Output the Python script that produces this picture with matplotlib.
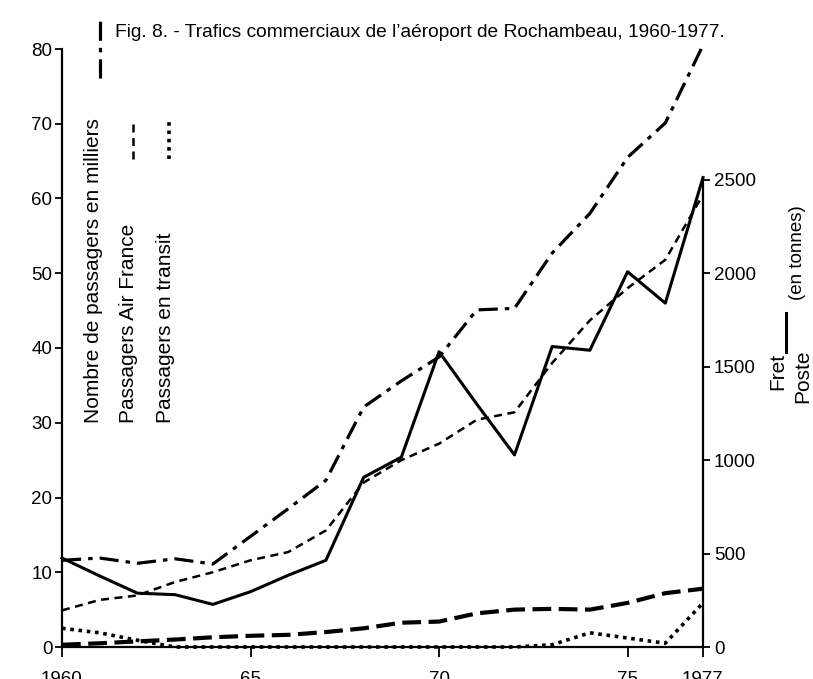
import numpy as np
import matplotlib.pyplot as plt

plt.rcParams['font.family'] = ['Liberation Sans', 'DejaVu Sans']

# years
annees = np.arange(1960, 1978)

# passagers (milliers) - axe de gauche
total = [11.6, 11.9, 11.2, 11.8, 11.1, 14.8, 18.5, 22.3, 32.1, 35.6, 38.8,
         45.1, 45.3, 52.7, 58.0, 65.5, 70.1, 80.5]
air_france = [4.9, 6.3, 6.9, 8.7, 10.0, 11.6, 12.7, 15.6, 22.0, 25.0, 27.2,
              30.4, 31.4, 38.0, 43.7, 48.0, 51.8, 60.5]
transit = [2.5, 1.9, 0.9, 0, 0, 0, 0, 0, 0, 0, 0,
           0, 0, 0.3, 1.9, 1.2, 0.5, 5.9]

# tonnes - axe de droite
fret = [476, 380, 288, 280, 228, 296, 384, 464, 908, 1016, 1580,
        1300, 1028, 1608, 1588, 2008, 1840, 2512]
poste = [12, 20, 30, 40, 52, 60, 65, 80, 100, 130, 136,
         180, 200, 204, 200, 236, 288, 312]

xticks = [1960, 1965, 1970, 1975, 1977]
xtick_labels = ['1960', '65', '70', '75', '1977']

fig = plt.figure(figsize=(8.13, 6.79), dpi=100)
ax = fig.add_axes([62/813, 1 - 647/679, 641/813, 598/679])
ax2 = ax.twinx()

st_total = dict(color='black', lw=2.3, dashes=(6, 2.2, 1.4, 2.2))
st_af = dict(color='black', lw=1.8, dashes=(3.2, 2.2))
st_tr = dict(color='black', lw=2.6, dashes=(1.0, 1.3))
st_fret = dict(color='black', lw=2.2)
st_poste = dict(color='black', lw=3.0, dashes=(4.5, 1.8))

ax.plot(annees, total, clip_on=False, **st_total)
ax.plot(annees, air_france, clip_on=False, **st_af)
ax.plot(annees, transit, clip_on=False, **st_tr)
ax2.plot(annees, fret, clip_on=False, **st_fret)
ax2.plot(annees, poste, clip_on=False, **st_poste)

ax.set_xlim(1960, 1977)
ax.set_ylim(0, 80)
ax2.set_ylim(0, 3200)

for a in (ax, ax2):
    a.spines['top'].set_visible(False)
    for s in a.spines.values():
        s.set_linewidth(1.6)
ax.spines['right'].set_visible(False)
ax2.spines['left'].set_visible(False)
ax2.spines['bottom'].set_visible(False)
ax2.spines['right'].set_bounds(0, 2500)

ax.set_yticks(range(0, 81, 10))
ax2.set_yticks(range(0, 2501, 500))
ax.set_xticks(xticks)
ax.set_xticklabels(xtick_labels)
ax.tick_params(axis='y', length=5, width=1.3, pad=2, labelsize=13.5)
ax2.tick_params(axis='y', length=5, width=1.3, pad=3, labelsize=13.5)
ax.tick_params(axis='x', length=7, width=1.3, pad=10, labelsize=13.5)

# titre
fig.text(115/813, 1 - 37/679, "Fig. 8. - Trafics commerciaux de l\u2019aéroport de Rochambeau, 1960-1977.",
         fontsize=13.8, va='baseline', ha='left')

# légendes verticales
tr = ax.transAxes
ax.plot([0.0593, 0.0593], [0.9515, 1.0485], transform=tr, clip_on=False, **st_total)
ax.plot([0.1108, 0.1108], [0.816, 0.878], transform=tr, clip_on=False, **st_af)
ax.plot([0.167, 0.167], [0.816, 0.878], transform=tr, clip_on=False, **st_tr)
ax.plot([1.1295, 1.1295], [0.4933, 0.5585], transform=tr, clip_on=False, **st_fret)

kw = dict(rotation=90, ha='center', va='bottom', fontsize=15, transform=tr)
ax.text(0.0484, 0.3746, 'Nombre de passagers en milliers', **kw)
ax.text(0.103, 0.3746, 'Passagers Air France', **kw)
ax.text(0.1607, 0.3746, 'Passagers en transit', **kw)
ax.text(1.117, 0.43, 'Fret', **kw)
ax.text(1.156, 0.408, 'Poste', **kw)
ax.text(1.147, 0.58, '(en tonnes)', **dict(kw, fontsize=13.5))

fig.savefig('out.png', dpi=100)
